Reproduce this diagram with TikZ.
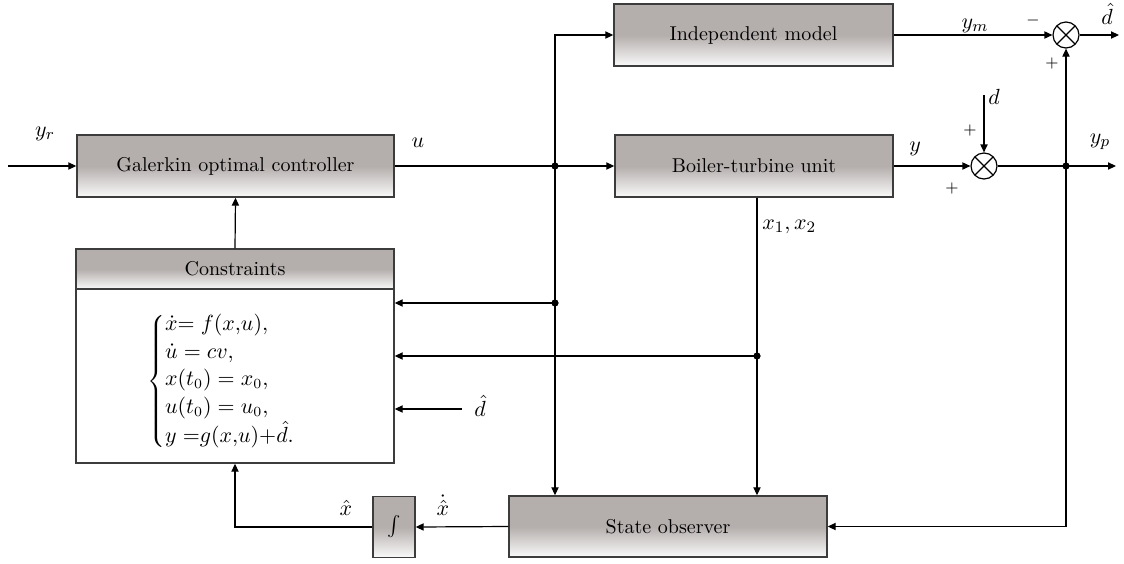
\documentclass[tikz,border=0pt]{standalone}
\usetikzlibrary{arrows.meta,calc}
\definecolor{boxgray}{HTML}{B4AEAC}
\definecolor{edgegray}{HTML}{3C3C3C}
\begin{document}
\begin{tikzpicture}[x=0.5pt,y=-0.5pt,
  blk/.style={draw=edgegray, line width=0.7pt, top color=boxgray, bottom color=white!96!gray, middle color=boxgray, font=\normalsize},
  sumnode/.style={circle, draw=black, line width=0.6pt, minimum size=13pt, inner sep=0pt, fill=white,
    path picture={\draw[line width=0.6pt] (path picture bounding box.north west)--(path picture bounding box.south east)
      (path picture bounding box.north east)--(path picture bounding box.south west);}},
  jdot/.style={circle, fill=black, inner sep=0pt, minimum size=3.6pt},
  conn/.style={line width=0.6pt, -{Triangle[length=4pt,width=3.6pt]}},
  wire/.style={line width=0.6pt},
  lbl/.style={font=\fontsize{11}{13}\selectfont, inner sep=1pt},
  sgn/.style={font=\footnotesize, inner sep=1pt}
]
\useasboundingbox (0,0) rectangle (1124,563);

% blocks
\node[blk, minimum width=158.5pt, minimum height=31pt] (gal) at (235.5,166) {Galerkin optimal controller};
\node[blk, minimum width=139pt, minimum height=31pt] (boil) at (754,166) {Boiler-turbine unit};
\node[blk, minimum width=139.5pt, minimum height=31pt] (indep) at (753.5,35) {Independent model};
\node[draw=edgegray, line width=0.7pt, fill=white, minimum width=159pt, minimum height=107pt] (cons) at (235,356) {};
\node[blk, minimum width=159pt, minimum height=20pt, anchor=north] (chead) at (cons.north) {Constraints};
\node[blk, minimum width=159pt, minimum height=30.5pt] (obs) at (668,526.5) {State observer};
\node[blk, minimum width=21pt, minimum height=30.5pt, inner sep=0pt] (integ) at (394,527) {$\int$};

\node[anchor=west, inner sep=0pt, font=\fontsize{10.5}{12.5}\selectfont] (eqs) at (147,381) {$\renewcommand{\arraystretch}{1.1}\left\{\begin{array}{@{}l@{}}
\dot{x}{=}\; f(x{,}u),\\
\dot{u} = cv,\\
x(t_0) = x_0,\\
u(t_0) = u_0,\\
y\;{=}g(x{,}u){+}\hat{d}.
\end{array}\right.$};

% summing junctions
\node[sumnode] (s1) at (1066,35) {};
\node[sumnode] (s2) at (984,166) {};

% branch points
\node[jdot] (j1) at (555,166) {};
\node[jdot] (j2) at (555,303) {};
\node[jdot] (j3) at (757,356) {};
\node[jdot] (j4) at (1066,166) {};

% free ends
\coordinate (yin) at (8,166);
\coordinate (dhin) at (462,409);
\coordinate (din) at (984,95);
\coordinate (ypout) at (1116,166);
\coordinate (dhout) at (1119,35);

% connectors
\draw[conn] (yin) -- (gal.west);
\draw[wire] (gal.east) -- (j1.center);
\draw[conn] (j1.center) -- (boil.west);
\draw[conn] (j1.center) |- (indep.west);
\draw[conn] (j1.center) -- (j1.center |- obs.north);
\draw[conn] (j2.center) -- (j2.center -| cons.east);
\draw[conn] (j3.center |- boil.south) -- (j3.center |- obs.north);
\draw[conn] (j3.center) -- (j3.center -| cons.east);
\draw[conn] (dhin) -- (dhin -| cons.east);
\draw[conn] (boil.east) -- (s2.west);
\draw[conn] (din) -- (s2.north);
\draw[wire] (s2.east) -- (j4.center);
\draw[conn] (j4.center) -- (ypout);
\draw[conn] (j4.center) -- (s1.south);
\draw[conn] (j4.center) |- (obs.east);
\draw[conn] (indep.east) -- (s1.west);
\draw[conn] (s1.east) -- (dhout);
\draw[conn] (obs.west) -- (integ.east);
\draw[conn] (integ.west) -| (cons.south);
\draw[conn] (cons.north) -- (gal.south);

% labels
\node[lbl] (lyr) at (45,134) {$y_r$};
\node[lbl] (lu) at (418,143) {$u$};
\node[lbl, anchor=west] (lx) at (760,227) {$x_1, x_2$};
\node[lbl] (ly) at (915,149) {$y$};
\node[lbl, anchor=west] (ld) at (986,97) {$d$};
\node[lbl] (lym) at (975,26) {$y_m$};
\node[lbl] (ldh) at (1107,14) {$\hat{d}$};
\node[lbl] (lyp) at (1100,142) {$y_p$};
\node[sgn] (lminus) at (1033,20) {$-$};
\node[sgn] (lp1) at (1052,63) {$+$};
\node[sgn] (lp2) at (970,130) {$+$};
\node[sgn] (lp3) at (952,188) {$+$};
\node[lbl] (ldh2) at (480,406) {$\hat{d}$};
\node[lbl] (lxh) at (346,508) {$\hat{x}$};
\node[lbl] (lxhd) at (443,505) {$\dot{\hat{x}}$};
\end{tikzpicture}
\end{document}
